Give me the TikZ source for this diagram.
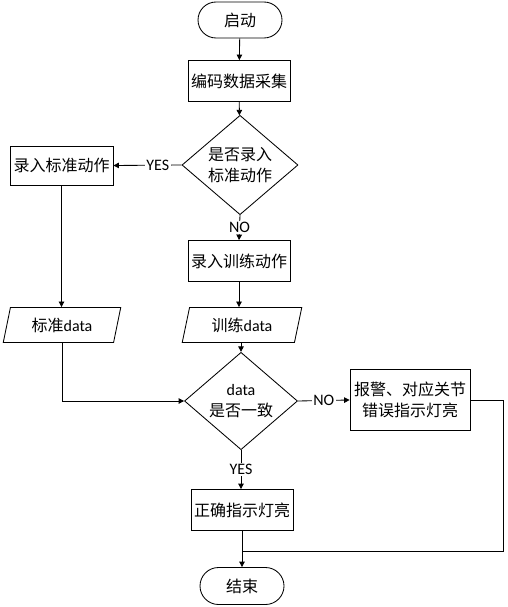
\documentclass[tikz,border=0pt]{standalone}
\usepackage{fontspec}
\setmainfont{Carlito}
\newfontfamily\cjk{Noto Sans CJK SC}
\usetikzlibrary{arrows.meta,shapes.geometric,shapes.misc}
\newcommand{\zh}[1]{{\cjk\fontsize{16}{21}\selectfont #1}}

\begin{document}
\begin{tikzpicture}[x=1pt,y=-1pt,line width=0.85pt,
    every node/.style={font=\fontsize{16}{21}\selectfont,align=center,inner sep=0pt},
    term/.style={draw,rounded rectangle,minimum width=84pt,minimum height=36pt},
    proc/.style={draw,minimum width=102pt,minimum height=41pt},
    io/.style={draw,trapezium,trapezium left angle=74,trapezium right angle=106,
      trapezium stretches=true,minimum width=118pt,minimum height=35pt},
    decide/.style={draw,diamond,minimum width=116pt,minimum height=82pt},
    lbl/.style={fill=white,inner sep=1.5pt},
    flow/.style={-{Triangle[length=5.5pt,width=5.5pt]}}]
  \useasboundingbox (0,0) rectangle (507,607);
  % nodes
  \node[term] (start) at (240,20) {\zh{启动}};
  \node[proc] (collect) at (239,81) {\zh{编码数据采集}};
  \node[decide] (ask) at (240,165) {\zh{是否录入}\\\zh{标准动作}};
  \node[proc,minimum width=103pt,minimum height=39pt] (std) at (61.5,165.5) {\zh{录入标准动作}};
  \node[proc] (train) at (239,261) {\zh{录入训练动作}};
  \node[io] (stddata) at (62,325) {\zh{标准}data};
  \node[io,minimum width=120pt] (traindata) at (242,325) {\zh{训练}data};
  \node[decide,minimum width=113pt,minimum height=69pt] (same) at (241,401) {data\\\zh{是否一致}};
  \node[proc,minimum width=120pt,minimum height=61pt] (alarm) at (410,400) {\zh{报警、对应关节}\\\zh{错误指示灯亮}};
  \node[proc] (ok) at (242,510) {\zh{正确指示灯亮}};
  \node[term,minimum height=37pt] (stop) at (242,586) {\zh{结束}};
  \coordinate (turn) at (503,551);
  % connectors
  \draw[flow] (start) -- (collect);
  \draw[flow] (collect) -- (ask);
  \draw[flow] (ask.west) -- node[lbl,pos=0.35] {YES} (std.east);
  \draw[flow] (ask.south) -- node[lbl] {NO} (train.north);
  \draw[flow] (std) -- (std |- stddata.north);
  \draw[flow] (train) -- (train |- traindata.north);
  \draw[flow] (stddata.south) |- (same.west);
  \draw[flow] (traindata.south -| same) -- (same.north);
  \draw[flow] (same.east) -- node[lbl] {NO} (alarm.west);
  \draw[flow] (same.south) -- node[lbl] {YES} (ok.north -| same);
  \draw[flow] (ok) -- (stop);
  \draw (alarm.east) -| (turn) -- (ok.south |- turn);
\end{tikzpicture}
\end{document}
